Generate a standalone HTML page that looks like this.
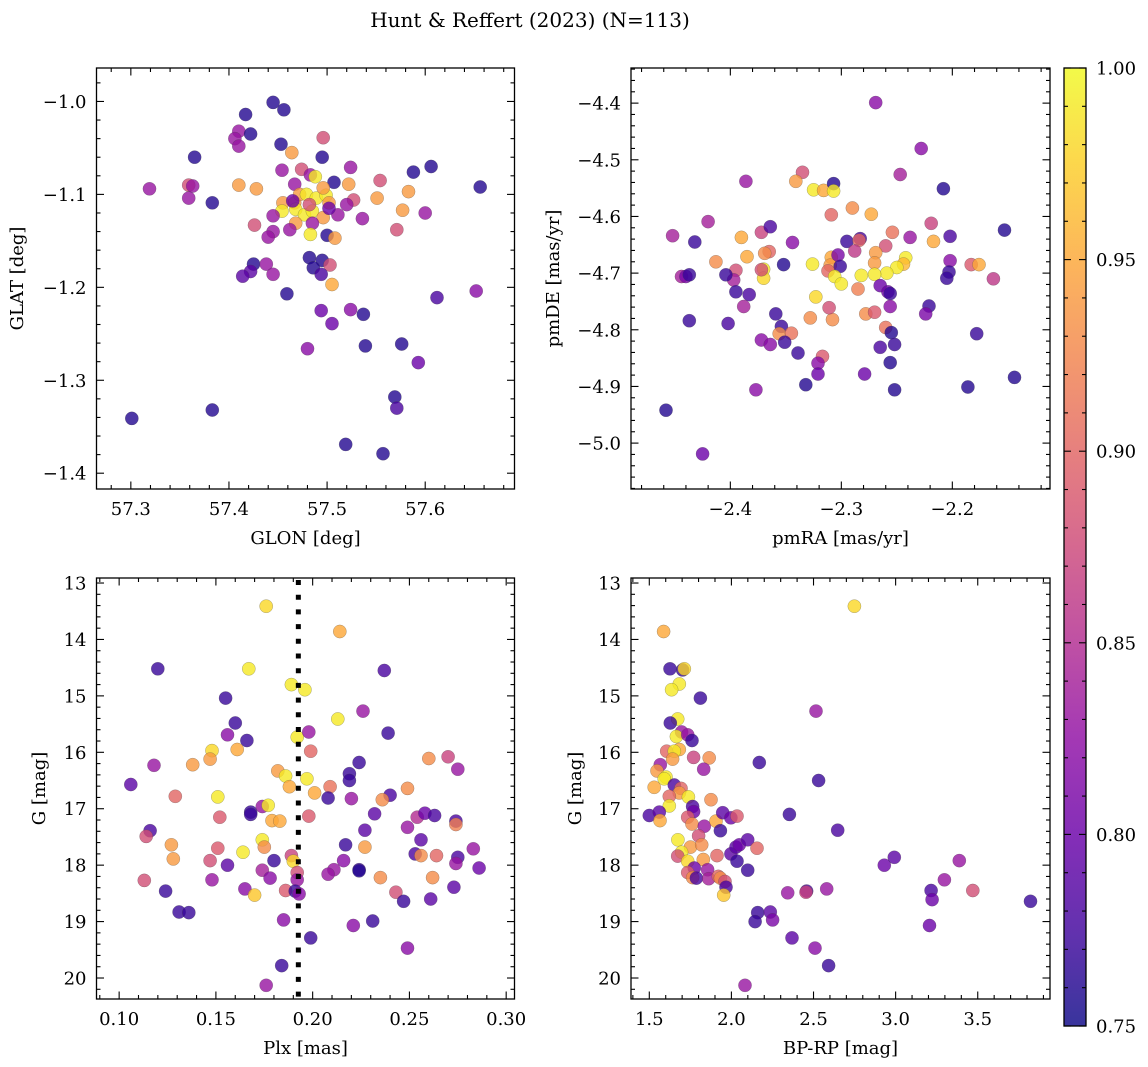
<!DOCTYPE html>
<html><head><meta charset="utf-8"><style>
html,body{margin:0;padding:0;background:#fff;}
svg{display:block;font-family:"DejaVu Serif","Liberation Serif",serif;}
</style></head><body>
<svg id="fig" width="1148" height="1067" viewBox="0 0 1148 1067" xmlns="http://www.w3.org/2000/svg">
<defs>
<linearGradient id="plasma" x1="0" y1="1" x2="0" y2="0">
<stop offset="0" stop-color="#0d0887"/><stop offset="0.1" stop-color="#41049d"/><stop offset="0.2" stop-color="#6a00a8"/><stop offset="0.3" stop-color="#8f0da4"/><stop offset="0.4" stop-color="#b12a90"/><stop offset="0.5" stop-color="#cc4778"/><stop offset="0.6" stop-color="#e16462"/><stop offset="0.7" stop-color="#f2844b"/><stop offset="0.8" stop-color="#fca636"/><stop offset="0.9" stop-color="#fcce25"/><stop offset="1" stop-color="#f0f921"/>
</linearGradient>
</defs>
<text x="530" y="27" font-size="20" text-anchor="middle">Hunt &amp; Reffert (2023) (N=113)</text>
</svg>
<script>
// data arrays: [x, y, membership probability]
const glonGlat = [[57.301,-1.341,0.76],[57.319,-1.094,0.83],[57.365,-1.060,0.76],[57.359,-1.090,0.88],[57.363,-1.091,0.83],[57.359,-1.104,0.83],[57.383,-1.109,0.76],[57.383,-1.332,0.76],[57.410,-1.090,0.94],[57.428,-1.094,0.94],[57.417,-1.014,0.76],[57.410,-1.032,0.83],[57.406,-1.040,0.83],[57.410,-1.048,0.83],[57.422,-1.035,0.76],[57.445,-1.001,0.76],[57.456,-1.009,0.76],[57.453,-1.046,0.76],[57.464,-1.055,0.94],[57.496,-1.039,0.88],[57.495,-1.060,0.76],[57.524,-1.071,0.83],[57.454,-1.074,0.83],[57.474,-1.073,0.88],[57.483,-1.079,0.83],[57.488,-1.081,0.99],[57.467,-1.089,0.83],[57.507,-1.087,0.76],[57.522,-1.089,0.94],[57.554,-1.085,0.88],[57.588,-1.076,0.76],[57.606,-1.070,0.76],[57.656,-1.092,0.76],[57.583,-1.097,0.94],[57.551,-1.104,0.94],[57.577,-1.117,0.94],[57.600,-1.120,0.83],[57.571,-1.138,0.88],[57.527,-1.106,0.88],[57.520,-1.111,0.83],[57.536,-1.126,0.83],[57.511,-1.122,0.83],[57.455,-1.109,0.94],[57.454,-1.118,0.99],[57.467,-1.109,0.94],[57.468,-1.116,0.99],[57.472,-1.100,0.94],[57.479,-1.100,0.99],[57.477,-1.122,0.99],[57.485,-1.118,0.99],[57.489,-1.104,0.99],[57.499,-1.101,0.99],[57.496,-1.093,0.94],[57.502,-1.109,0.94],[57.496,-1.125,0.94],[57.468,-1.131,0.94],[57.482,-1.111,0.88],[57.485,-1.131,0.83],[57.483,-1.143,0.99],[57.500,-1.144,0.76],[57.508,-1.147,0.94],[57.462,-1.138,0.83],[57.445,-1.123,0.83],[57.426,-1.133,0.88],[57.445,-1.140,0.83],[57.440,-1.146,0.83],[57.465,-1.107,0.80],[57.502,-1.115,0.80],[57.482,-1.168,0.76],[57.495,-1.171,0.76],[57.503,-1.176,0.88],[57.486,-1.179,0.76],[57.494,-1.186,0.78],[57.505,-1.197,0.95],[57.425,-1.175,0.76],[57.438,-1.175,0.83],[57.422,-1.183,0.79],[57.414,-1.188,0.79],[57.445,-1.186,0.83],[57.459,-1.207,0.76],[57.652,-1.204,0.82],[57.612,-1.211,0.78],[57.494,-1.225,0.80],[57.524,-1.224,0.82],[57.537,-1.229,0.76],[57.505,-1.239,0.80],[57.480,-1.266,0.82],[57.539,-1.263,0.76],[57.576,-1.261,0.76],[57.593,-1.281,0.80],[57.569,-1.318,0.76],[57.571,-1.330,0.78],[57.519,-1.369,0.76],[57.557,-1.379,0.76]];
const pmraPmde = [[-2.269,-4.399,0.82],[-2.228,-4.480,0.82],[-2.247,-4.526,0.84],[-2.208,-4.551,0.76],[-2.335,-4.522,0.88],[-2.341,-4.538,0.94],[-2.386,-4.538,0.83],[-2.325,-4.553,0.99],[-2.316,-4.554,0.95],[-2.307,-4.542,0.76],[-2.307,-4.555,0.99],[-2.290,-4.585,0.93],[-2.273,-4.596,0.95],[-2.309,-4.597,0.90],[-2.420,-4.609,0.84],[-2.452,-4.634,0.84],[-2.432,-4.645,0.77],[-2.390,-4.637,0.95],[-2.372,-4.628,0.87],[-2.364,-4.618,0.78],[-2.344,-4.646,0.82],[-2.365,-4.662,0.90],[-2.369,-4.665,0.93],[-2.385,-4.671,0.95],[-2.413,-4.680,0.93],[-2.352,-4.685,0.76],[-2.326,-4.684,0.99],[-2.309,-4.672,0.95],[-2.310,-4.686,0.94],[-2.303,-4.668,0.81],[-2.301,-4.688,0.77],[-2.312,-4.696,0.90],[-2.295,-4.644,0.77],[-2.283,-4.639,0.78],[-2.284,-4.642,0.90],[-2.288,-4.661,0.86],[-2.254,-4.628,0.91],[-2.260,-4.652,0.88],[-2.269,-4.664,0.94],[-2.270,-4.682,0.94],[-2.238,-4.637,0.83],[-2.219,-4.612,0.87],[-2.217,-4.644,0.95],[-2.202,-4.635,0.78],[-2.202,-4.678,0.82],[-2.203,-4.698,0.77],[-2.205,-4.709,0.77],[-2.183,-4.685,0.89],[-2.176,-4.685,0.95],[-2.163,-4.710,0.86],[-2.153,-4.624,0.76],[-2.242,-4.673,0.99],[-2.244,-4.684,0.96],[-2.250,-4.690,0.99],[-2.259,-4.700,0.99],[-2.270,-4.702,0.99],[-2.282,-4.704,0.99],[-2.306,-4.706,0.99],[-2.300,-4.719,0.99],[-2.285,-4.728,0.92],[-2.370,-4.693,0.99],[-2.370,-4.709,0.98],[-2.372,-4.694,0.88],[-2.395,-4.695,0.88],[-2.397,-4.712,0.84],[-2.404,-4.703,0.77],[-2.444,-4.706,0.84],[-2.440,-4.706,0.81],[-2.437,-4.703,0.77],[-2.395,-4.733,0.77],[-2.383,-4.738,0.78],[-2.388,-4.759,0.84],[-2.437,-4.784,0.77],[-2.402,-4.789,0.78],[-2.359,-4.772,0.77],[-2.354,-4.794,0.77],[-2.356,-4.807,0.93],[-2.345,-4.806,0.91],[-2.351,-4.822,0.77],[-2.372,-4.818,0.82],[-2.364,-4.826,0.82],[-2.339,-4.841,0.77],[-2.323,-4.742,0.98],[-2.328,-4.779,0.93],[-2.308,-4.782,0.93],[-2.311,-4.761,0.88],[-2.278,-4.772,0.93],[-2.270,-4.769,0.89],[-2.265,-4.722,0.80],[-2.258,-4.733,0.80],[-2.256,-4.736,0.77],[-2.256,-4.759,0.82],[-2.260,-4.796,0.91],[-2.255,-4.805,0.76],[-2.252,-4.826,0.77],[-2.265,-4.831,0.78],[-2.256,-4.858,0.76],[-2.252,-4.906,0.76],[-2.279,-4.878,0.80],[-2.317,-4.847,0.89],[-2.321,-4.859,0.82],[-2.321,-4.878,0.80],[-2.332,-4.897,0.76],[-2.377,-4.906,0.82],[-2.221,-4.758,0.77],[-2.224,-4.772,0.81],[-2.178,-4.807,0.77],[-2.186,-4.901,0.76],[-2.144,-4.884,0.76],[-2.458,-4.942,0.76],[-2.425,-5.019,0.80]];
const plxG = [[0.176,13.41,0.98],[0.214,13.86,0.95],[0.120,14.52,0.77],[0.167,14.52,0.99],[0.189,14.80,0.99],[0.196,14.89,0.99],[0.237,14.55,0.78],[0.155,15.04,0.77],[0.226,15.27,0.83],[0.213,15.41,0.99],[0.160,15.48,0.77],[0.156,15.69,0.82],[0.166,15.79,0.77],[0.192,15.73,0.99],[0.198,15.64,0.83],[0.239,15.66,0.77],[0.199,15.98,0.90],[0.148,15.97,0.98],[0.147,16.12,0.94],[0.161,15.95,0.95],[0.138,16.22,0.94],[0.118,16.23,0.83],[0.106,16.57,0.79],[0.129,16.78,0.90],[0.151,16.79,0.99],[0.182,16.33,0.94],[0.186,16.42,0.99],[0.188,16.61,0.95],[0.197,16.47,0.99],[0.201,16.72,0.95],[0.209,16.61,0.91],[0.224,16.18,0.77],[0.219,16.38,0.77],[0.219,16.50,0.77],[0.208,16.81,0.77],[0.220,16.82,0.83],[0.240,16.76,0.78],[0.236,16.84,0.93],[0.249,16.64,0.93],[0.260,16.11,0.93],[0.270,16.08,0.87],[0.275,16.30,0.83],[0.168,17.06,0.77],[0.168,17.10,0.77],[0.174,16.96,0.83],[0.177,16.94,0.99],[0.152,17.15,0.89],[0.179,17.21,0.95],[0.183,17.22,0.95],[0.198,17.13,0.89],[0.232,17.09,0.79],[0.227,17.38,0.79],[0.249,17.33,0.83],[0.254,17.15,0.85],[0.258,17.08,0.80],[0.263,17.12,0.78],[0.274,17.22,0.78],[0.274,17.28,0.92],[0.116,17.39,0.78],[0.114,17.49,0.88],[0.127,17.64,0.94],[0.128,17.89,0.94],[0.151,17.70,0.89],[0.164,17.77,0.99],[0.174,17.55,0.99],[0.175,17.68,0.93],[0.147,17.92,0.88],[0.156,18.00,0.79],[0.180,17.92,0.77],[0.189,17.83,0.87],[0.190,17.93,0.98],[0.217,17.64,0.77],[0.227,17.68,0.94],[0.216,17.92,0.82],[0.211,18.08,0.83],[0.208,18.16,0.83],[0.224,18.08,0.77],[0.224,18.10,0.76],[0.256,17.55,0.79],[0.253,17.80,0.78],[0.256,17.83,0.93],[0.264,17.83,0.90],[0.275,17.86,0.78],[0.274,17.97,0.83],[0.283,17.71,0.83],[0.286,18.05,0.80],[0.262,18.22,0.93],[0.235,18.22,0.93],[0.113,18.27,0.88],[0.148,18.26,0.83],[0.174,18.09,0.84],[0.178,18.23,0.82],[0.192,18.13,0.88],[0.192,18.26,0.83],[0.124,18.46,0.77],[0.165,18.42,0.82],[0.170,18.53,0.97],[0.186,18.45,0.89],[0.191,18.46,0.77],[0.193,18.51,0.82],[0.243,18.48,0.88],[0.247,18.64,0.77],[0.261,18.60,0.79],[0.273,18.39,0.79],[0.131,18.83,0.77],[0.136,18.84,0.77],[0.185,18.97,0.82],[0.199,19.29,0.77],[0.221,19.07,0.82],[0.231,18.99,0.77],[0.249,19.47,0.82],[0.184,19.78,0.77],[0.176,20.13,0.83]];
const colorG = [[2.749,13.41,0.98],[1.587,13.86,0.95],[1.626,14.52,0.77],[1.703,14.54,0.77],[1.713,14.52,0.98],[1.683,14.79,0.99],[1.636,14.89,0.99],[1.811,15.04,0.77],[2.515,15.27,0.83],[1.673,15.41,0.99],[1.628,15.48,0.77],[1.697,15.64,0.83],[1.665,15.72,0.99],[1.734,15.69,0.83],[1.760,15.79,0.77],[1.606,15.98,0.90],[1.683,15.95,0.95],[1.652,15.98,0.99],[1.642,16.12,0.94],[1.770,16.09,0.87],[1.865,16.10,0.93],[1.567,16.22,0.83],[1.547,16.33,0.94],[1.831,16.30,0.83],[2.170,16.18,0.77],[2.531,16.50,0.77],[1.602,16.44,0.99],[1.591,16.47,0.99],[1.530,16.62,0.95],[1.652,16.58,0.78],[1.693,16.64,0.90],[1.683,16.72,0.94],[1.622,16.78,0.90],[1.738,16.79,0.99],[1.764,16.96,0.78],[1.770,17.05,0.80],[1.622,16.95,0.99],[1.876,16.84,0.93],[1.500,17.12,0.78],[1.561,17.06,0.79],[1.565,17.21,0.95],[1.734,17.15,0.89],[1.760,17.27,0.93],[1.835,17.31,0.83],[1.906,17.22,0.95],[1.947,17.07,0.79],[1.997,17.16,0.80],[2.034,17.13,0.89],[1.933,17.39,0.77],[2.353,17.10,0.77],[2.647,17.38,0.78],[1.800,17.48,0.88],[1.674,17.55,0.99],[1.751,17.68,0.94],[1.819,17.64,0.93],[1.697,17.77,0.99],[1.673,17.84,0.88],[1.734,17.93,0.98],[1.829,17.90,0.94],[1.912,17.83,0.90],[1.997,17.80,0.79],[2.028,17.68,0.79],[2.048,17.64,0.80],[2.099,17.55,0.79],[2.156,17.70,0.90],[2.034,17.93,0.77],[2.099,18.09,0.77],[1.774,18.05,0.80],[1.855,18.08,0.83],[1.734,18.13,0.89],[1.764,18.22,0.93],[1.787,18.23,0.78],[1.862,18.24,0.84],[1.920,18.20,0.90],[1.933,18.23,0.93],[1.961,18.29,0.88],[1.967,18.39,0.78],[1.953,18.53,0.97],[2.343,18.49,0.83],[2.458,18.46,0.78],[2.454,18.48,0.87],[2.580,18.42,0.83],[2.931,18.00,0.80],[2.992,17.86,0.79],[3.388,17.92,0.83],[3.297,18.26,0.83],[3.216,18.45,0.78],[3.222,18.61,0.80],[3.470,18.45,0.88],[3.821,18.64,0.77],[2.160,18.84,0.77],[2.237,18.83,0.79],[2.251,18.97,0.81],[2.144,19.00,0.77],[3.206,19.07,0.80],[2.369,19.29,0.79],[2.509,19.47,0.82],[2.592,19.78,0.77],[2.083,20.13,0.83]];
const clusterParallax = [0.1926];
const cbarTicks = [0.75,0.80,0.85,0.90,0.95,1.00];
const cbarTickLabels = ["0.75","0.80","0.85","0.90","0.95","1.00"];

const NS = "http://www.w3.org/2000/svg";
const svg = document.getElementById('fig');
function mk(tag, attrs, parent){const e=document.createElementNS(NS,tag);for(const k in attrs)e.setAttribute(k,attrs[k]);(parent||svg).appendChild(e);return e;}
const stops=[[0,[13,8,135]],[0.1,[65,4,157]],[0.2,[106,0,168]],[0.3,[143,13,164]],[0.4,[177,42,144]],[0.5,[204,71,120]],[0.6,[225,100,98]],[0.7,[242,132,75]],[0.8,[252,166,54]],[0.9,[252,206,37]],[1,[240,249,33]]];
function plasma(p){let t=(p-0.75)/0.25;t=Math.max(0,Math.min(1,t));for(let i=0;i<stops.length-1;i++){const a=stops[i],b=stops[i+1];if(t<=b[0]){const f=(t-a[0])/(b[0]-a[0]);const c=a[1].map((v,j)=>Math.round(v+(b[1][j]-v)*f));return 'rgb('+c.join(',')+')';}}return 'rgb(240,249,33)';}
function fmt(v,d){const s=Math.abs(v).toFixed(d);return (v<-1e-9?'\u2212':'')+s;}

function panel(c){
  const L=c.left,T=c.top,W=c.w,H=c.h;
  const sx=v=>L+(v-c.x0)/(c.x1-c.x0)*W;
  const sy=v=>T+(v-c.yTop)/(c.yBot-c.yTop)*H;
  const g=mk('g',{});
  
  
  const clipId='clip-'+c.name;
  const cp=mk('clipPath',{id:clipId},g);mk('rect',{x:L,y:T,width:W,height:H},cp);
  const pts=mk('g',{'clip-path':'url(#'+clipId+')'},g);
  
  
  c.data.forEach(d=>{
    const e=mk('circle',{cx:sx(d[0]).toFixed(1),cy:sy(d[1]).toFixed(1),r:6.6,fill:plasma(d[2]),'fill-opacity':0.8,stroke:'#444','stroke-opacity':0.45,'stroke-width':0.5},pts);
    
    
  });
  if(c.vline){c.vline.forEach(v=>{const l=mk('line',{x1:sx(v),x2:sx(v),y1:T+2,y2:T+H,stroke:'#000','stroke-width':5,'stroke-dasharray':'5 9.7'},g);
    
    });}
  const fr=mk('rect',{x:L,y:T,width:W,height:H,fill:'none',stroke:'#000','stroke-width':1.3},g);
  
  
  const tk=mk('g',{stroke:'#000','stroke-width':1.1},g);
  const xlo=Math.min(c.x0,c.x1),xhi=Math.max(c.x0,c.x1);
  for(let k=Math.ceil(xlo/c.xmin-1e-6);k*c.xmin<=xhi+1e-9;k++){const v=k*c.xmin;const maj=Math.abs(v/c.xmaj-Math.round(v/c.xmaj))<1e-6;const len=maj?7.5:4;const x=sx(v);
    mk('line',{x1:x,x2:x,y1:T+H,y2:T+H-len},tk);mk('line',{x1:x,x2:x,y1:T,y2:T+len},tk);
    if(maj){const t=mk('text',{x:x,y:T+H+26,'font-size':18,'text-anchor':'middle',stroke:'none',fill:'#000'},g);t.textContent=fmt(v,c.xd);
      
      }}
  const ylo=Math.min(c.yTop,c.yBot),yhi=Math.max(c.yTop,c.yBot);
  for(let k=Math.ceil(ylo/c.ymin-1e-6);k*c.ymin<=yhi+1e-9;k++){const v=k*c.ymin;const maj=Math.abs(v/c.ymaj-Math.round(v/c.ymaj))<1e-6;const len=maj?7.5:4;const y=sy(v);
    mk('line',{x1:L,x2:L+len,y1:y,y2:y},tk);mk('line',{x1:L+W,x2:L+W-len,y1:y,y2:y},tk);
    if(maj){const t=mk('text',{x:L-10,y:y+6.5,'font-size':18,'text-anchor':'end',stroke:'none',fill:'#000'},g);t.textContent=fmt(v,c.yd);
      
      }}
  const xl=mk('text',{x:L+W/2,y:T+H+55,'font-size':18,'text-anchor':'middle'},g);xl.textContent=c.xlabel;
  
  
  const yl=mk('text',{x:0,y:0,'font-size':18,'text-anchor':'middle',transform:'translate('+(c.ylx)+','+(T+H/2)+') rotate(-90)'},g);yl.textContent=c.ylabel;
  
  
}

panel({name:'glon-glat-panel',left:96.5,top:68,w:418,h:421,x0:57.265,x1:57.691,yTop:-0.964,yBot:-1.417,xmaj:0.1,xmin:0.02,ymaj:0.1,ymin:0.02,xd:1,yd:1,data:glonGlat,xlabel:'GLON [deg]',ylabel:'GLAT [deg]',ylx:23});
panel({name:'pm-panel',left:631,top:68,w:419,h:421,x0:-2.4895,x1:-2.112,yTop:-4.338,yBot:-5.081,xmaj:0.1,xmin:0.02,ymaj:0.1,ymin:0.02,xd:1,yd:1,data:pmraPmde,xlabel:'pmRA [mas/yr]',ylabel:'pmDE [mas/yr]',ylx:559});
panel({name:'plx-g-panel',left:96.5,top:578,w:418,h:421,x0:0.0883,x1:0.3043,yTop:12.911,yBot:20.372,xmaj:0.05,xmin:0.01,ymaj:1,ymin:0.2,xd:2,yd:0,data:plxG,vline:clusterParallax,xlabel:'Plx [mas]',ylabel:'G [mag]',ylx:45});
panel({name:'cmd-panel',left:631,top:578,w:419,h:421,x0:1.3886,x1:3.940,yTop:12.911,yBot:20.372,xmaj:0.5,xmin:0.1,ymaj:1,ymin:0.2,xd:1,yd:0,data:colorG,xlabel:'BP-RP [mag]',ylabel:'G [mag]',ylx:581});

(function(){
  const X=1064,Y=68,W=22,H=958;
  const g=mk('g',{});
  
  
  mk('rect',{x:X,y:Y,width:W,height:H,fill:'url(#plasma)','fill-opacity':0.82},g);
  mk('rect',{x:X,y:Y,width:W,height:H,fill:'none',stroke:'#000','stroke-width':1.3},g);
  const sy=v=>Y+H-(v-0.75)/0.25*H;
  for(let k=75;k<=100;k++){const v=k/100;const maj=k%5===0;const y=sy(v);
    mk('line',{x1:X+W,x2:X+W-(maj?7:4),y1:y,y2:y,stroke:'#000','stroke-width':1.1},g);
    mk('line',{x1:X,x2:X+(maj?7:4),y1:y,y2:y,stroke:'#000','stroke-width':1.1},g);}
  cbarTicks.forEach((v,i)=>{const t=mk('text',{x:X+W+10,y:sy(v)+6.5,'font-size':18},g);t.textContent=cbarTickLabels[i];
    
    });
})();
</script>
</body></html>
